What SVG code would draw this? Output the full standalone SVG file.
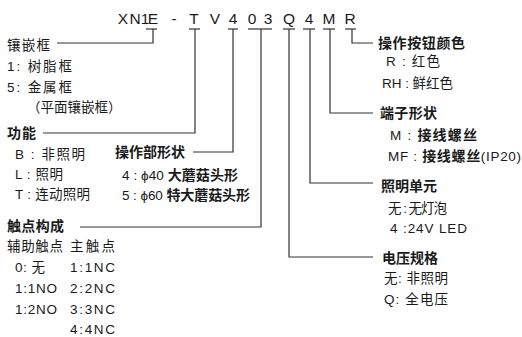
<svg xmlns="http://www.w3.org/2000/svg" width="522" height="337" viewBox="0 0 522 337">
<style>
text{font-family:"Liberation Sans","Noto Sans CJK SC",sans-serif;fill:#1a1a1a}
.code{font-size:15.5px;text-anchor:middle}
.t{font-size:13.5px}
.b{font-size:14px;font-weight:bold}
.ln{fill:none;stroke:#333;stroke-width:1.2}
</style>
<rect width="522" height="337" fill="#fff"/>
<g id="code">
<text class="code" x="123" y="24">X</text>
<text class="code" x="135" y="24">N</text>
<text class="code" x="145" y="24">1</text>
<text class="code" x="153" y="24">E</text>
<text class="code" x="174" y="24">-</text>
<text class="code" x="194" y="24">T</text>
<text class="code" x="215" y="24">V</text>
<text class="code" x="233" y="24">4</text>
<text class="code" x="252" y="24">0</text>
<text class="code" x="268" y="24">3</text>
<text class="code" x="289" y="24">Q</text>
<text class="code" x="309" y="24">4</text>
<text class="code" x="329" y="24">M</text>
<text class="code" x="350" y="24">R</text>
</g>
<g id="connectors">
<polyline class="ln" points="146,29 157,29"/>
<polyline class="ln" points="153,29 153,43 57,43"/>
<polyline class="ln" points="189,29 200,29"/>
<polyline class="ln" points="195,29 195,133 43,133"/>
<polyline class="ln" points="228,29 238,29"/>
<polyline class="ln" points="233,29 233,152 193,152"/>
<polyline class="ln" points="248,29 272,29"/>
<polyline class="ln" points="261,29 261,227 80,227"/>
<polyline class="ln" points="283,29 295,29"/>
<polyline class="ln" points="289,29 289,257 373,257"/>
<polyline class="ln" points="303,29 315,29"/>
<polyline class="ln" points="310,29 310,183 373,183"/>
<polyline class="ln" points="323,29 335,29"/>
<polyline class="ln" points="330,29 330,113 373,113"/>
<polyline class="ln" points="345,29 356,29"/>
<polyline class="ln" points="352,29 352,43 373,43"/>
</g>
<g id="frame">
<text class="t" x="7" y="50" textLength="43" lengthAdjust="spacing">镶嵌框</text>
<text class="t" x="7" y="71" textLength="65" lengthAdjust="spacing">1:  树脂框</text>
<text class="t" x="7" y="92" textLength="65" lengthAdjust="spacing">5:  金属框</text>
<text class="t" x="27" y="112">（平面镶嵌框）</text>
</g>
<g id="function">
<text class="b" x="7" y="138" textLength="29" lengthAdjust="spacing">功能</text>
<text class="t" x="15" y="159" textLength="70" lengthAdjust="spacing">B : 非照明</text>
<text class="t" x="15" y="179" textLength="48" lengthAdjust="spacing">L : 照明</text>
<text class="t" x="15" y="199" textLength="75" lengthAdjust="spacing">T : 连动照明</text>
</g>
<g id="shape">
<text class="b" x="115" y="157" textLength="70" lengthAdjust="spacing">操作部形状</text>
<text class="t" x="122" y="180" textLength="116" lengthAdjust="spacing">4 : ϕ40 <tspan class="b">大蘑菇头形</tspan></text>
<text class="t" x="122" y="200" textLength="128" lengthAdjust="spacing">5 : ϕ60 <tspan class="b">特大蘑菇头形</tspan></text>
</g>
<g id="contact">
<text class="b" x="7" y="231" textLength="57" lengthAdjust="spacing">触点构成</text>
<text class="t" x="7" y="251" textLength="56" lengthAdjust="spacing">辅助触点</text>
<text class="t" x="70" y="251" textLength="45" lengthAdjust="spacing">主触点</text>
<text class="t" x="15" y="272" textLength="30" lengthAdjust="spacing">0: 无</text>
<text class="t" x="15" y="293" textLength="42" lengthAdjust="spacing">1:1NO</text>
<text class="t" x="15" y="314" textLength="42" lengthAdjust="spacing">1:2NO</text>
<text class="t" x="70" y="272" textLength="45" lengthAdjust="spacing">1:1NC</text>
<text class="t" x="70" y="293" textLength="45" lengthAdjust="spacing">2:2NC</text>
<text class="t" x="70" y="314" textLength="45" lengthAdjust="spacing">3:3NC</text>
<text class="t" x="70" y="334" textLength="45" lengthAdjust="spacing">4:4NC</text>
</g>
<g id="color">
<text class="b" x="378" y="48" textLength="87" lengthAdjust="spacing">操作按钮颜色</text>
<text class="t" x="386" y="66" textLength="54" lengthAdjust="spacing">R  : 红色</text>
<text class="t" x="382" y="88" textLength="71" lengthAdjust="spacing">RH : 鲜红色</text>
</g>
<g id="terminal">
<text class="b" x="380" y="118" textLength="57" lengthAdjust="spacing">端子形状</text>
<text class="t" x="390" y="140" textLength="87" lengthAdjust="spacing">M  : <tspan class="b">接线螺丝</tspan></text>
<text class="t" x="388" y="161" textLength="133" lengthAdjust="spacing">MF : <tspan class="b">接线螺丝</tspan>(IP20)</text>
</g>
<g id="light">
<text class="b" x="381" y="191" textLength="56" lengthAdjust="spacing">照明单元</text>
<text class="t" x="388" y="213" textLength="59" lengthAdjust="spacing">无 : 无灯泡</text>
<text class="t" x="390" y="233" textLength="77" lengthAdjust="spacing">4  :24V LED</text>
</g>
<g id="voltage">
<text class="b" x="382" y="263" textLength="56" lengthAdjust="spacing">电压规格</text>
<text class="t" x="384" y="283" textLength="64" lengthAdjust="spacing">无: 非照明</text>
<text class="t" x="384" y="304" textLength="64" lengthAdjust="spacing">Q: 全电压</text>
</g>
</svg>
